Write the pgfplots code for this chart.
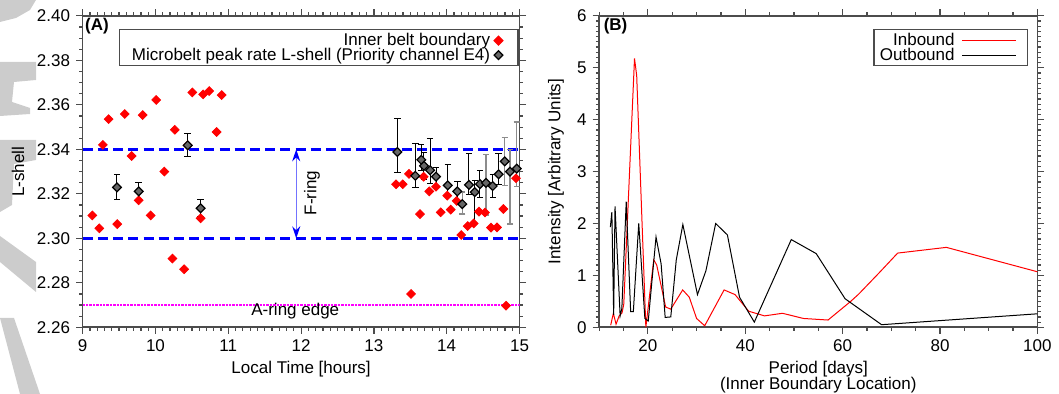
\documentclass[border=0pt]{standalone}
\usepackage{fontspec}
\setmainfont{Liberation Sans}
\usepackage{pgfplots}
\usepackage{pgfplotstable}
\pgfplotsset{compat=1.18}
\usetikzlibrary{arrows.meta}
\definecolor{mag}{RGB}{255,0,255}
\definecolor{wm}{RGB}{204,204,204}

\pgfplotstableread{
x y
9.132 2.3103
9.228 2.3045
9.277 2.3420
9.356 2.3536
9.475 2.3064
9.578 2.3559
9.672 2.3370
9.769 2.3171
9.824 2.3554
9.934 2.3103
10.010 2.3622
10.121 2.3300
10.232 2.2909
10.265 2.3488
10.394 2.2861
10.442 2.3418
10.506 2.3656
10.620 2.3090
10.654 2.3647
10.738 2.3662
10.839 2.3478
10.909 2.3644
13.304 2.3243
13.396 2.3243
13.482 2.3290
13.510 2.2750
13.633 2.3109
13.683 2.3277
13.761 2.3211
13.853 2.3232
13.918 2.3117
14.008 2.3192
14.055 2.3129
14.137 2.3168
14.200 2.3015
14.288 2.3055
14.371 2.3067
14.444 2.3120
14.526 2.3116
14.609 2.3048
14.691 2.3049
14.778 2.3132
14.815 2.2697
14.952 2.3270
}\redA

\pgfplotstableread{
x y ep em
9.471 2.3229 0.0056 0.0054
9.769 2.3211 0.0039 0.0040
10.442 2.3418 0.0052 0.0050
10.620 2.3135 0.0039 0.0038
13.322 2.3388 0.0151 0.0094
13.569 2.3281 0.0145 0.0051
13.651 2.3353 0.0067 0.0050
13.688 2.3326 0.0060 0.0060
13.771 2.3306 0.0143 0.0060
13.853 2.3277 0.0040 0.0040
14.014 2.3238 0.0095 0.0050
14.146 2.3211 0.0044 0.0040
14.306 2.3240 0.0140 0.0045
14.385 2.3208 0.0050 0.0141
14.457 2.3244 0.0060 0.0060
14.632 2.3235 0.0050 0.0050
14.714 2.3288 0.0095 0.0048
}\blackA

\pgfplotstableread{
x y ep em
14.214 2.3154 0.0054 0.0045
14.540 2.3249 0.0129 0.0144
14.797 2.3346 0.0107 0.0107
14.870 2.3300 0.0098 0.0236
14.962 2.3313 0.0210 0.0080
}\grayA

\pgfplotstableread{
x y
12.36 0.04
12.91 0.27
13.46 0.06
14.10 0.22
14.70 0.28
15.05 0.45
17.25 5.18
17.70 4.85
19.58 0.00
21.20 1.30
21.81 1.20
23.65 0.39
24.70 0.35
27.15 0.72
28.50 0.58
30.00 0.17
31.67 0.03
35.65 0.72
37.90 0.63
40.70 0.31
43.95 0.22
47.65 0.27
51.95 0.17
57.00 0.14
61.66 0.50
63.30 0.64
67.50 1.05
71.30 1.43
81.30 1.54
100.0 1.07
}\inbound

\pgfplotstableread{
x y
12.29 1.93
12.60 2.22
12.97 0.24
13.25 2.33
14.30 0.22
14.65 0.36
15.55 2.42
16.46 0.30
17.01 0.30
18.12 2.00
19.38 0.17
20.07 0.12
21.67 1.74
22.72 1.22
23.55 0.19
24.70 0.20
25.83 1.30
27.18 1.98
30.18 0.63
31.92 1.09
33.92 2.00
36.33 1.78
38.82 0.58
41.86 0.10
49.45 1.69
54.57 1.42
60.50 0.55
68.00 0.05
100.0 0.26
}\outbound

\pgfplotsset{
  myaxis/.style={
    scale only axis,
    anchor=south west,
    height=155.7pt,
    axis line style={black!70, line width=0.8pt},
    tick style={black!70, line width=0.6pt},
    tick align=outside,
    major tick length=3.3pt,
    minor tick length=1.7pt,
    tick label style={font=\fontsize{8.5}{9}\selectfont, black},
    label style={font=\fontsize{8.5}{9}\selectfont, black},
    /pgf/number format/assume math mode=true,
    legend style={font=\fontsize{8.5}{8.6}\selectfont, draw=black!70, line width=0.6pt,
      inner ysep=0.8pt, row sep=-1.7pt, column sep=0pt, nodes={inner sep=0.8pt}},
  },
}

\begin{document}
\fontsize{8.5}{9}\selectfont
\begin{tikzpicture}
\path[use as bounding box] (0,0) rectangle (529.5pt,197pt);

% light watermark fragments at the left edge
\begin{scope}[x=0.5pt, y=-0.5pt, shift={(0pt,197pt)}]
\fill[wm] (0,0) -- (36,0) -- (30,10) -- (16,18) -- (0,22) -- cycle;
\fill[wm] (0,62) -- (36,62) -- (36,80) -- (14,82) -- (12,102) -- (30,108) -- (30,114) -- (0,116) -- cycle;
\fill[wm] (0,140) -- (36,140) -- (36,160) -- (14,164) -- (12,205) -- (0,212) -- cycle;
\fill[wm] (0,236) -- (36,262) -- (36,292) -- (0,262) -- cycle;
\fill[wm] (0,318) -- (14,318) -- (40,394) -- (20,394) -- cycle;
\end{scope}

% ---------------- Panel A ----------------
\begin{axis}[myaxis,
  at={(41.35pt,33.35pt)}, width=218.4pt,
  xmin=9, xmax=15, ymin=2.26, ymax=2.40,
  xtick={9,10,...,15}, minor x tick num=9,
  ytick={2.26,2.28,...,2.40}, minor y tick num=3,
  yticklabel style={/pgf/number format/.cd, fixed, fixed zerofill, precision=2},
  xlabel={Local Time [hours]}, ylabel={L-shell},
  every axis x label/.style={at={(axis description cs:0.5,-0.1333)}, anchor=center},
  every axis y label/.style={at={(axis description cs:-0.1481,0.5)}, rotate=90, anchor=center},
  legend cell align=right, legend plot pos=right,
  legend style={at={(1,1)}, anchor=north east, xshift=-0.5pt, yshift=-6.7pt, inner xsep=5.4pt},
  legend image code/.code={\path[draw=none, fill=none] (0pt,-2pt) rectangle (7.7pt,2pt); \draw[#1] plot coordinates {(3.4pt,0pt)};},
]
\addplot[forget plot, blue, line width=1.3pt, dash pattern=on 5pt off 2.6pt] coordinates {(9,2.34) (15,2.34)};
\addplot[forget plot, blue, line width=1.3pt, dash pattern=on 5pt off 2.6pt] coordinates {(9,2.30) (15,2.30)};
\addplot[forget plot, draw=mag, line width=1pt, dash pattern=on 1.2pt off 0.5pt] coordinates {(9,2.27) (15,2.27)};

\addplot[only marks, mark=square*, mark size=1.55pt, mark options={rotate=45, fill=red, draw=red}]
  table[x=x, y=y] {\redA};
\addlegendentry{Inner belt boundary}

\addplot[only marks, mark=square*, mark size=1.55pt,
  mark options={rotate=45, fill=black!60, draw=black, line width=0.6pt},
  error bars/.cd, y dir=both, y explicit,
  error bar style={black, line width=0.5pt},
  error mark options={rotate=90, black, mark size=1.6pt, line width=0.5pt}]
  table[x=x, y=y, y error plus=ep, y error minus=em] {\blackA};
\addlegendentry{Microbelt peak rate L-shell (Priority channel E4)}

\addplot[forget plot, only marks, mark=square*, mark size=1.55pt,
  mark options={rotate=45, fill=black!60, draw=black, line width=0.6pt},
  error bars/.cd, y dir=both, y explicit,
  error bar style={black!45, line width=0.6pt},
  error mark options={rotate=90, black!45, mark size=1.6pt, line width=0.6pt}]
  table[x=x, y=y, y error plus=ep, y error minus=em] {\grayA};

\draw[blue!55, line width=0.7pt, {Stealth[length=6pt, width=4pt, color=blue]}-{Stealth[length=6pt, width=4pt, color=blue]}]
  (axis cs:11.933,2.3) -- (axis cs:11.933,2.34);
\node[rotate=90, anchor=center] at (axis cs:12.15,2.3204) {F-ring};
\node[anchor=base] at (axis cs:11.92,2.2655) {A-ring edge};
\node[anchor=north west, font=\fontsize{8.5}{9}\selectfont\bfseries, inner sep=1pt] at (axis description cs:0,1) {(A)};
\end{axis}

% ---------------- Panel B ----------------
\begin{axis}[myaxis,
  at={(299.6pt,33.35pt)}, width=219.1pt,
  xmin=10, xmax=100, ymin=0, ymax=6,
  xtick={20,40,...,100}, minor xtick={10,15,...,100},
  ytick={0,1,...,6}, minor ytick={0,0.1,...,6},
  xlabel={Period [days]\\(Inner Boundary Location)},
  ylabel={Intensity [Arbitrary Units]},
  every axis x label/.style={at={(axis description cs:0.5,-0.1596)}, anchor=center, align=center,
     font=\fontsize{8.5}{8.1}\selectfont},
  every axis y label/.style={at={(axis description cs:-0.0986,0.5)}, rotate=90, anchor=center},
  legend cell align=right, legend plot pos=right,
  legend style={at={(1,1)}, anchor=north east, xshift=-4.6pt, yshift=-6.7pt, inner xsep=2.2pt},
  legend image code/.code={\path[draw=none, fill=none] (0pt,-2pt) rectangle (33.5pt,2pt); \draw[#1] (3.1pt,0pt) -- (30.1pt,0pt);},
]
\addplot[red, line width=0.5pt] table[x=x, y=y] {\inbound};
\addlegendentry{Inbound}
\addplot[black, line width=0.5pt] table[x=x, y=y] {\outbound};
\addlegendentry{Outbound}
\node[anchor=north west, font=\fontsize{8.5}{9}\selectfont\bfseries, inner sep=1pt] at (axis description cs:0.005,1) {(B)};
\end{axis}
\end{tikzpicture}
\end{document}
